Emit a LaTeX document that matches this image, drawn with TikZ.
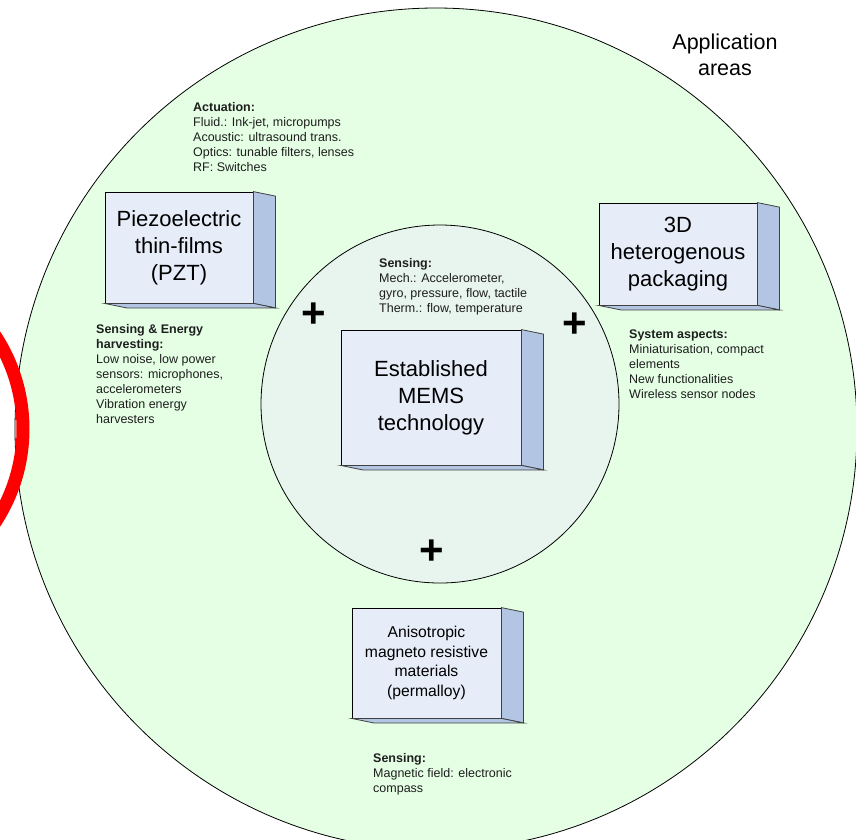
\documentclass[tikz,border=0pt]{standalone}
\usepackage{fontspec}
\setmainfont{Liberation Sans}
\usetikzlibrary{positioning}

\definecolor{areagreen}{RGB}{229,255,229}
\definecolor{memsgreen}{RGB}{232,245,238}
\definecolor{boxfront}{RGB}{230,236,248}
\definecolor{boxside}{RGB}{178,198,228}
\definecolor{notetext}{RGB}{30,30,30}

\tikzset{
  techbox/.style={draw=black, line width=0.8pt, fill=boxfront, inner sep=0pt, align=center, font=\fontsize{22}{27}\selectfont},
  smallbox/.style={techbox, font=\fontsize{15.7}{19.5}\selectfont},
  note/.style={anchor=north west, inner sep=0pt, align=left, text=notetext, font=\fontsize{12.5}{15}\selectfont},
  plus/.style={inner sep=0pt, font=\fontsize{42}{42}\selectfont\bfseries}
}
% side and bottom face of a box node
\newcommand{\boxdepth}[1]{%
  \draw[fill=boxside, draw=black!75, line width=0.8pt] (#1.north east) -- ++(22,4.5) -- ([shift={(22,4.5)}]#1.south east) -- (#1.south east) -- cycle;
  \draw[fill=boxside, draw=black!75, line width=0.8pt] (#1.south west) -- ([shift={(22,4.5)}]#1.south west) -- ([shift={(22,4.5)}]#1.south east) -- (#1.south east) -- cycle;
}

\begin{document}
\begin{tikzpicture}[x=1pt, y=-1pt]

\clip (0,0) rectangle (856,839);

\draw[fill=areagreen, line width=0.8pt] (436,429) circle (421);
\draw[fill=memsgreen, line width=0.8pt] (440,404) circle (179);
\draw[red, line width=13pt] (-147,429) circle (170);

\node[anchor=north, inner sep=0pt, align=center, font=\fontsize{21.5}{26}\selectfont] (areas) at (725,34) {Application\\areas};

\node[techbox, minimum width=148pt, minimum height=111pt] (pzt) at (179,247.5) {Piezoelectric\\thin-films\\(PZT)};
\boxdepth{pzt}
\node[techbox, minimum width=158pt, minimum height=102pt] (pkg) at (678,254) {3D\\heterogenous\\packaging};
\boxdepth{pkg}
\node[techbox, minimum width=180pt, minimum height=135pt] (mems) at (431,397.5) {Established\\MEMS\\technology};
\boxdepth{mems}
\node[smallbox, minimum width=149pt, minimum height=110pt] (amr) at (426.5,663) {Anisotropic\\magneto resistive\\materials\\(permalloy)};
\boxdepth{amr}

\node[note] (actuation) at (193,102.5) {\textbf{Actuation:}\\Fluid.: Ink-jet, micropumps\\Acoustic: ultrasound trans.\\Optics: tunable filters, lenses\\RF: Switches};
\node[note] (harvest) at (96,324.5) {\textbf{Sensing \& Energy}\\\textbf{harvesting:}\\Low noise, low power\\sensors: microphones,\\accelerometers\\Vibration energy\\harvesters};
\node[note] (sensing) at (379,258.5) {\textbf{Sensing:}\\Mech.: Accelerometer,\\gyro, pressure, flow, tactile\\Therm.: flow, temperature};
\node[note] (system) at (629,329.5) {\textbf{System aspects:}\\Miniaturisation, compact\\elements\\New functionalities\\Wireless sensor nodes};
\node[note] (magnetic) at (373,753.5) {\textbf{Sensing:}\\Magnetic field: electronic\\compass};

\node[plus] (plusleft) at (314,315) {+};
\node[plus] (plusright) at (575,325) {+};
\node[plus] (plusbottom) at (432,552) {+};

\end{tikzpicture}
\end{document}
